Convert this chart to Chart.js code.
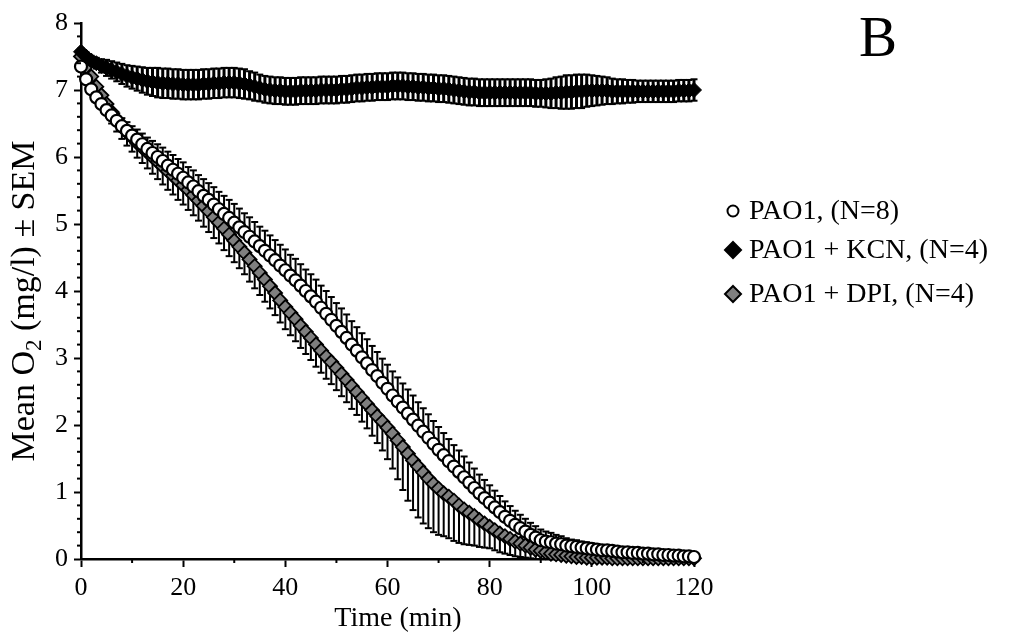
<!DOCTYPE html>
<html>
<head>
<meta charset="utf-8">
<title>Mean O2 over time</title>
<style>
  body { margin: 0; background: #fff; }
</style>
</head>
<body>
<canvas id="o2Chart" width="1015" height="639"></canvas>

<script src="https://cdn.jsdelivr.net/npm/chart.js"></script>
<script>
// sampling times (min)
const minutes = [
  0, 1, 2, 3, 4, 5, 6, 7, 8, 9, 10,
  11, 12, 13, 14, 15, 16, 17, 18, 19, 20,
  21, 22, 23, 24, 25, 26, 27, 28, 29, 30,
  31, 32, 33, 34, 35, 36, 37, 38, 39, 40,
  41, 42, 43, 44, 45, 46, 47, 48, 49, 50,
  51, 52, 53, 54, 55, 56, 57, 58, 59, 60,
  61, 62, 63, 64, 65, 66, 67, 68, 69, 70,
  71, 72, 73, 74, 75, 76, 77, 78, 79, 80,
  81, 82, 83, 84, 85, 86, 87, 88, 89, 90,
  91, 92, 93, 94, 95, 96, 97, 98, 99, 100,
  101, 102, 103, 104, 105, 106, 107, 108, 109, 110,
  111, 112, 113, 114, 115, 116, 117, 118, 119, 120
];

// PAO1 (N=8)
const pao1Mean = [
  7.35, 7.16, 7.01, 6.89, 6.79, 6.70, 6.62, 6.54, 6.46, 6.39, 6.32,
  6.26, 6.19, 6.12, 6.06, 6.00, 5.94, 5.87, 5.81, 5.75, 5.69,
  5.62, 5.56, 5.49, 5.42, 5.36, 5.29, 5.22, 5.15, 5.09, 5.02,
  4.95, 4.88, 4.81, 4.74, 4.67, 4.60, 4.53, 4.46, 4.38, 4.31,
  4.23, 4.16, 4.08, 4.00, 3.92, 3.84, 3.75, 3.66, 3.57, 3.48,
  3.39, 3.30, 3.20, 3.11, 3.01, 2.92, 2.82, 2.73, 2.63, 2.54,
  2.44, 2.35, 2.26, 2.17, 2.08, 1.99, 1.90, 1.81, 1.72, 1.63,
  1.55, 1.46, 1.38, 1.30, 1.22, 1.14, 1.06, 0.98, 0.91, 0.84,
  0.77, 0.70, 0.63, 0.57, 0.51, 0.46, 0.41, 0.36, 0.32, 0.28,
  0.26, 0.25, 0.23, 0.22, 0.20, 0.19, 0.18, 0.17, 0.16, 0.15,
  0.14, 0.13, 0.13, 0.12, 0.11, 0.10, 0.10, 0.09, 0.09, 0.08,
  0.08, 0.07, 0.07, 0.06, 0.06, 0.05, 0.05, 0.04, 0.04, 0.03
];
const pao1Sem = [
  0.04, 0.05, 0.06, 0.07, 0.08, 0.09, 0.10, 0.11, 0.12, 0.13, 0.14,
  0.15, 0.16, 0.17, 0.18, 0.19, 0.20, 0.21, 0.22, 0.22, 0.23,
  0.23, 0.24, 0.24, 0.25, 0.25, 0.26, 0.26, 0.27, 0.27, 0.28,
  0.28, 0.28, 0.29, 0.29, 0.29, 0.30, 0.30, 0.30, 0.31, 0.31,
  0.31, 0.32, 0.32, 0.32, 0.33, 0.33, 0.33, 0.34, 0.34, 0.34,
  0.35, 0.35, 0.35, 0.35, 0.36, 0.36, 0.36, 0.36, 0.36, 0.36,
  0.36, 0.36, 0.36, 0.36, 0.36, 0.35, 0.35, 0.35, 0.34, 0.34,
  0.33, 0.33, 0.32, 0.32, 0.31, 0.30, 0.29, 0.28, 0.27, 0.26,
  0.25, 0.24, 0.23, 0.22, 0.21, 0.20, 0.19, 0.18, 0.17, 0.16,
  0.15, 0.14, 0.13, 0.12, 0.11, 0.10, 0.10, 0.09, 0.09, 0.08,
  0.08, 0.07, 0.07, 0.06, 0.06, 0.06, 0.05, 0.05, 0.05, 0.05,
  0.04, 0.04, 0.04, 0.04, 0.04, 0.03, 0.03, 0.03, 0.03, 0.03
];

// PAO1 + KCN (N=4)
const kcnMean = [
  7.57, 7.50, 7.44, 7.40, 7.36, 7.33, 7.30, 7.27, 7.24, 7.21, 7.19,
  7.17, 7.15, 7.13, 7.12, 7.11, 7.10, 7.10, 7.09, 7.09, 7.08,
  7.08, 7.08, 7.08, 7.09, 7.09, 7.10, 7.10, 7.11, 7.11, 7.11,
  7.10, 7.09, 7.07, 7.05, 7.03, 7.01, 7.00, 6.99, 6.99, 6.98,
  6.98, 6.98, 6.99, 6.99, 6.99, 6.99, 7.00, 7.00, 7.00, 7.00,
  7.01, 7.01, 7.02, 7.03, 7.03, 7.04, 7.04, 7.05, 7.05, 7.05,
  7.06, 7.06, 7.06, 7.05, 7.05, 7.04, 7.04, 7.03, 7.03, 7.02,
  7.02, 7.01, 7.00, 6.99, 6.98, 6.97, 6.97, 6.96, 6.96, 6.96,
  6.96, 6.96, 6.96, 6.96, 6.96, 6.96, 6.96, 6.96, 6.95, 6.95,
  6.95, 6.95, 6.96, 6.96, 6.97, 6.97, 6.98, 6.98, 6.99, 6.99,
  6.99, 6.99, 6.99, 6.98, 6.98, 6.98, 6.98, 6.98, 6.98, 6.98,
  6.98, 6.98, 6.98, 6.98, 6.98, 6.98, 6.99, 6.99, 6.99, 7.00
];
const kcnSem = [
  0.05, 0.06, 0.07, 0.08, 0.10, 0.12, 0.13, 0.14, 0.15, 0.16, 0.17,
  0.18, 0.19, 0.20, 0.21, 0.22, 0.22, 0.22, 0.22, 0.22, 0.22,
  0.22, 0.22, 0.22, 0.22, 0.22, 0.22, 0.22, 0.22, 0.22, 0.22,
  0.22, 0.22, 0.21, 0.21, 0.20, 0.20, 0.20, 0.20, 0.20, 0.20,
  0.20, 0.20, 0.20, 0.20, 0.20, 0.20, 0.20, 0.20, 0.20, 0.20,
  0.20, 0.20, 0.20, 0.20, 0.20, 0.20, 0.20, 0.20, 0.20, 0.20,
  0.20, 0.20, 0.20, 0.20, 0.20, 0.20, 0.20, 0.20, 0.20, 0.20,
  0.20, 0.20, 0.20, 0.20, 0.20, 0.20, 0.20, 0.20, 0.20, 0.20,
  0.20, 0.20, 0.20, 0.20, 0.20, 0.20, 0.20, 0.20, 0.20, 0.20,
  0.21, 0.22, 0.23, 0.24, 0.25, 0.25, 0.25, 0.25, 0.24, 0.23,
  0.22, 0.21, 0.20, 0.19, 0.18, 0.18, 0.17, 0.17, 0.16, 0.16,
  0.16, 0.16, 0.16, 0.16, 0.16, 0.16, 0.16, 0.16, 0.16, 0.16
];

// PAO1 + DPI (N=4)
const dpiMean = [
  7.50, 7.35, 7.20, 7.05, 6.92, 6.79, 6.67, 6.56, 6.46, 6.37, 6.29,
  6.21, 6.14, 6.07, 6.00, 5.93, 5.86, 5.79, 5.72, 5.65, 5.58,
  5.51, 5.43, 5.35, 5.27, 5.19, 5.10, 5.02, 4.93, 4.84, 4.75,
  4.66, 4.57, 4.47, 4.37, 4.27, 4.17, 4.07, 3.97, 3.86, 3.76,
  3.67, 3.58, 3.48, 3.39, 3.30, 3.20, 3.11, 3.02, 2.94, 2.85,
  2.76, 2.67, 2.58, 2.49, 2.40, 2.31, 2.22, 2.13, 2.05, 1.96,
  1.87, 1.77, 1.67, 1.57, 1.47, 1.38, 1.29, 1.20, 1.12, 1.05,
  0.98, 0.93, 0.87, 0.80, 0.74, 0.69, 0.64, 0.58, 0.53, 0.48,
  0.43, 0.38, 0.34, 0.30, 0.26, 0.23, 0.20, 0.17, 0.14, 0.12,
  0.10, 0.08, 0.07, 0.06, 0.05, 0.04, 0.03, 0.03, 0.02, 0.02,
  0.02, 0.02, 0.02, 0.01, 0.01, 0.01, 0.01, 0.01, 0.01, 0.01,
  0.01, 0.01, 0.01, 0.01, 0.01, 0.01, 0.01, 0.01, 0.01, 0.01
];
const dpiSem = [
  0.05, 0.07, 0.09, 0.11, 0.13, 0.15, 0.17, 0.18, 0.19, 0.20, 0.21,
  0.22, 0.23, 0.24, 0.25, 0.26, 0.27, 0.28, 0.28, 0.29, 0.29,
  0.30, 0.30, 0.30, 0.31, 0.31, 0.31, 0.31, 0.32, 0.32, 0.32,
  0.32, 0.32, 0.33, 0.33, 0.33, 0.33, 0.33, 0.33, 0.33, 0.33,
  0.33, 0.33, 0.33, 0.33, 0.33, 0.33, 0.33, 0.33, 0.33, 0.33,
  0.33, 0.33, 0.34, 0.34, 0.35, 0.36, 0.38, 0.40, 0.43, 0.47,
  0.52, 0.58, 0.64, 0.70, 0.74, 0.76, 0.76, 0.74, 0.72, 0.69,
  0.64, 0.62, 0.60, 0.56, 0.52, 0.48, 0.44, 0.40, 0.36, 0.32,
  0.30, 0.28, 0.26, 0.24, 0.22, 0.20, 0.18, 0.16, 0.14, 0.12,
  0.10, 0.08, 0.07, 0.06, 0.05, 0.04, 0.03, 0.03, 0.02, 0.02,
  0.02, 0.02, 0.02, 0.01, 0.01, 0.01, 0.01, 0.01, 0.01, 0.01,
  0.01, 0.01, 0.01, 0.01, 0.01, 0.01, 0.01, 0.01, 0.01, 0.01
];

const seriesLabels = ['PAO1, (N=8)', 'PAO1 + KCN, (N=4)', 'PAO1 + DPI, (N=4)'];
const xMinorTicks = [10, 30, 50, 70, 90, 110];
const panelLetter = 'B';

const serif = '"Liberation Serif", "Times New Roman", serif';

function points(mean) {
  return minutes.map((t, i) => ({ x: t, y: mean[i] }));
}

// error bars: semDir 1 = up only, -1 = down only, 0 = both ways
const errorBars = {
  id: 'errorBars',
  beforeDatasetDraw(chart, args) {
    const ds = chart.data.datasets[args.index];
    if (!ds.sem) return;
    const ctx = chart.ctx;
    const y = chart.scales.y;
    const area = chart.chartArea;
    const dirs = ds.semDir === 0 ? [1, -1] : [ds.semDir];
    ctx.save();
    ctx.beginPath();
    ctx.rect(area.left - 20, area.top - 20, area.right - area.left + 40, area.bottom - area.top + 20);
    ctx.clip();
    ctx.strokeStyle = '#000';
    args.meta.data.forEach((pt, i) => {
      const m = ds.data[i].y;
      dirs.forEach(d => {
        const yEnd = y.getPixelForValue(m + d * ds.sem[i]);
        ctx.lineWidth = ds.barWidth;
        ctx.beginPath();
        ctx.moveTo(pt.x, pt.y);
        ctx.lineTo(pt.x, yEnd);
        ctx.stroke();
        ctx.lineWidth = 2;
        ctx.beginPath();
        ctx.moveTo(pt.x - ds.capHalf, yEnd);
        ctx.lineTo(pt.x + ds.capHalf, yEnd);
        ctx.stroke();
      });
    });
    ctx.restore();
  }
};

// minor ticks, axis titles, legend and panel letter
const extras = {
  id: 'extras',
  afterDraw(chart) {
    const ctx = chart.ctx;
    const xs = chart.scales.x, ys = chart.scales.y;
    const area = chart.chartArea;
    ctx.save();
    ctx.strokeStyle = '#000';
    ctx.lineWidth = 2;
    xMinorTicks.forEach(v => {
      const px = xs.getPixelForValue(v);
      ctx.beginPath();
      ctx.moveTo(px, area.bottom);
      ctx.lineTo(px, area.bottom + 4);
      ctx.stroke();
    });
    for (let v = 0.2; v < 8; v += 0.2) {
      if (Math.abs(v - Math.round(v)) < 0.01) continue;
      const py = ys.getPixelForValue(v);
      ctx.beginPath();
      ctx.moveTo(area.left, py);
      ctx.lineTo(area.left - 4, py);
      ctx.stroke();
    }

    ctx.fillStyle = '#000';
    // x title
    ctx.font = '28px ' + serif;
    ctx.textAlign = 'center';
    ctx.textBaseline = 'middle';
    ctx.fillText('Time (min)', 398, 619);

    // y title with subscript
    ctx.save();
    ctx.translate(34, 301);
    ctx.rotate(-Math.PI / 2);
    ctx.textAlign = 'left';
    ctx.textBaseline = 'alphabetic';
    const bigFont = '34px ' + serif, subFont = '23px ' + serif;
    ctx.font = bigFont;
    const a = 'Mean O', c = ' (mg/l) \u00b1 SEM';
    const wa = ctx.measureText(a).width, wc = ctx.measureText(c).width;
    ctx.font = subFont;
    const wb = ctx.measureText('2').width;
    const x0 = -(wa + wb + wc) / 2;
    ctx.font = bigFont;
    ctx.fillText(a, x0, 0);
    ctx.font = subFont;
    ctx.fillText('2', x0 + wa, 7);
    ctx.font = bigFont;
    ctx.fillText(c, x0 + wa + wb, 0);
    ctx.restore();

    // legend
    const rows = [211, 250, 294];
    ctx.font = '28px ' + serif;
    ctx.textAlign = 'left';
    ctx.textBaseline = 'middle';
    chart.data.datasets.forEach((ds, i) => {
      const cy = rows[i], cx = 733;
      ctx.beginPath();
      if (ds.pointStyle === 'circle') {
        ctx.arc(cx, cy, 5.5, 0, Math.PI * 2);
      } else {
        ctx.moveTo(cx, cy - 8);
        ctx.lineTo(cx + 8, cy);
        ctx.lineTo(cx, cy + 8);
        ctx.lineTo(cx - 8, cy);
        ctx.closePath();
      }
      ctx.fillStyle = ds.backgroundColor;
      ctx.fill();
      ctx.lineWidth = 2;
      ctx.strokeStyle = '#000';
      ctx.stroke();
      ctx.fillStyle = '#000';
      ctx.fillText(ds.label, 749, cy + 1);
    });

    // panel letter
    ctx.font = '57px ' + serif;
    ctx.textAlign = 'center';
    ctx.textBaseline = 'alphabetic';
    ctx.fillText(panelLetter, 878, 56);
    ctx.restore();
  }
};

new Chart(document.getElementById('o2Chart'), {
  type: 'scatter',
  data: {
    datasets: [
      {
        label: seriesLabels[0],
        data: points(pao1Mean),
        sem: pao1Sem, semDir: 1, capHalf: 3.5, barWidth: 2,
        pointStyle: 'circle', pointRadius: 6, borderWidth: 2.2,
        backgroundColor: '#ffffff', borderColor: '#000000',
        order: 1, clip: false
      },
      {
        label: seriesLabels[1],
        data: points(kcnMean),
        sem: kcnSem, semDir: 0, capHalf: 3.5, barWidth: 3,
        pointStyle: 'rectRot', pointRadius: 7.5, borderWidth: 1,
        backgroundColor: '#000000', borderColor: '#000000',
        order: 0, clip: false
      },
      {
        label: seriesLabels[2],
        data: points(dpiMean),
        sem: dpiSem, semDir: -1, capHalf: 3.5, barWidth: 2,
        pointStyle: 'rectRot', pointRadius: 7, borderWidth: 1.8,
        backgroundColor: '#7f7f7f', borderColor: '#000000',
        order: 2, clip: false
      }
    ]
  },
  options: {
    responsive: false,
    animation: false,
    events: [],
    layout: { padding: { left: 0, right: 321, top: 23, bottom: 0 } },
    plugins: { legend: { display: false }, tooltip: { enabled: false } },
    scales: {
      x: {
        type: 'linear', min: 0, max: 120,
        afterFit(scale) { scale.height = 80; },
        ticks: { stepSize: 20, color: '#000', padding: 6, font: { family: serif, size: 26 } },
        grid: { drawOnChartArea: false, drawTicks: true, tickLength: 8, tickWidth: 2, tickColor: '#000' },
        border: { display: true, color: '#000', width: 2.5 }
      },
      y: {
        min: 0, max: 8,
        afterFit(scale) { scale.width = 81; },
        ticks: { stepSize: 1, color: '#000', padding: 6, font: { family: serif, size: 26 } },
        grid: { drawOnChartArea: false, drawTicks: true, tickLength: 7, tickWidth: 2, tickColor: '#000' },
        border: { display: true, color: '#000', width: 2.5 }
      }
    }
  },
  plugins: [errorBars, extras]
});
</script>
</body>
</html>
